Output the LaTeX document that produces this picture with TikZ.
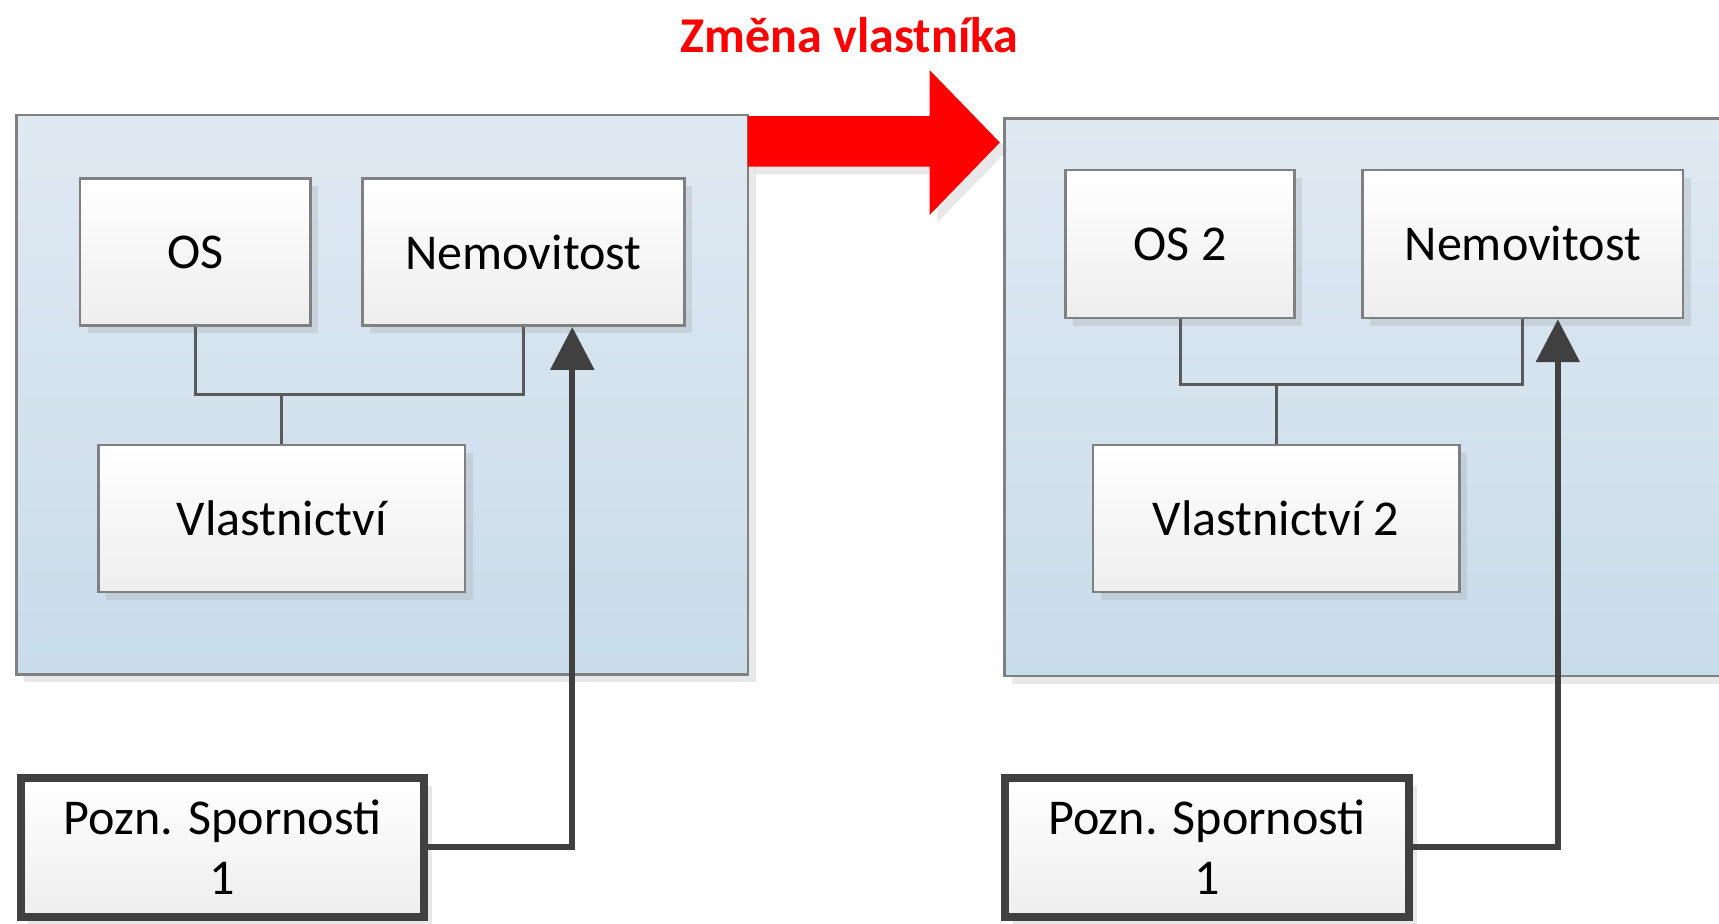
\documentclass[tikz,border=0pt]{standalone}
\usepackage{fontspec}
\setmainfont{Carlito}
\usetikzlibrary{arrows.meta,shadows}

\definecolor{boxline}{RGB}{128,128,128}
\definecolor{ctop}{RGB}{223,233,242}
\definecolor{cbot}{RGB}{201,220,234}
\definecolor{bbot}{RGB}{238,238,238}
\definecolor{linkc}{RGB}{90,90,90}
\definecolor{dark}{RGB}{64,64,64}

\begin{document}
\begin{tikzpicture}[x=0.01cm,y=-0.01cm,
	font=\fontsize{13}{15.6}\selectfont,
	stin/.style={drop shadow={opacity=0.18,shadow xshift=0.07cm,shadow yshift=-0.07cm}},
	stand/.style={draw=boxline,line width=0.7pt,top color=ctop,bottom color=cbot,stin},
	box/.style={draw=boxline,line width=0.7pt,top color=white,bottom color=bbot,align=center,inner sep=0pt,stin},
	spor/.style={box,draw=dark,line width=2.1pt,minimum width=3.68cm,minimum height=1.26cm},
	link/.style={draw=linkc,line width=0.75pt},
	tah/.style={draw=dark,line width=1.55pt,-{Triangle[length=0.39cm,width=0.39cm]}}]
	\useasboundingbox (0,0) rectangle (1568,842);
	\clip (0,0) rectangle (1568,842);
	% oba stavy
	\node[stand,minimum width=6.67cm,minimum height=5.1cm] (stary) at (348.5,360) {};
	\node[stand,anchor=north west,minimum width=7cm,minimum height=5.08cm] (novy) at (915,107) {};
	% zmena vlastnika
	\fill[red,stin] (682,106) -- (848,106) -- (848,64) -- (912,130) -- (848,196) -- (848,152) -- (682,152) -- cycle;
	\node[text=red,font=\bfseries\fontsize{13}{15.6}\selectfont] (titul) at (775,32) {Změna vlastníka};

		\node[box,minimum width=2.1cm,minimum height=1.34cm] (OS) at (178,230) {OS};
		\node[box,minimum width=2.93cm,minimum height=1.34cm] (Nem) at (477.5,230) {Nemovitost};
		\node[box,minimum width=3.34cm,minimum height=1.34cm] (Vl) at (257,473) {Vlastnictví};
		\node[spor] (Poz) at (203,773) {Pozn. Spornosti\\1};
		\coordinate (j) at (257,360);
		\draw[link] (OS.south) |- (j) -| (Nem.south);
		\draw[link] (Vl.north) -- (j);
		\draw[tah] (Poz.east) -| ([xshift=0.445cm]Nem.south);

		\node[box,minimum width=2.09cm,minimum height=1.35cm] (OSb) at (1076.5,222.5) {OS 2};
		\node[box,minimum width=2.92cm,minimum height=1.35cm] (Nemb) at (1389,222.5) {Nemovitost};
		\node[box,minimum width=3.34cm,minimum height=1.34cm] (Vlb) at (1164,473) {Vlastnictví 2};
		\node[spor] (Pozb) at (1101,773) {Pozn. Spornosti\\1};
		\coordinate (jb) at (1164,351);
		\draw[link] (OSb.south) |- (jb) -| (Nemb.south);
		\draw[link] (Vlb.north) -- (jb);
		\draw[tah] (Pozb.east) -| ([xshift=0.32cm]Nemb.south);
\end{tikzpicture}
\end{document}
